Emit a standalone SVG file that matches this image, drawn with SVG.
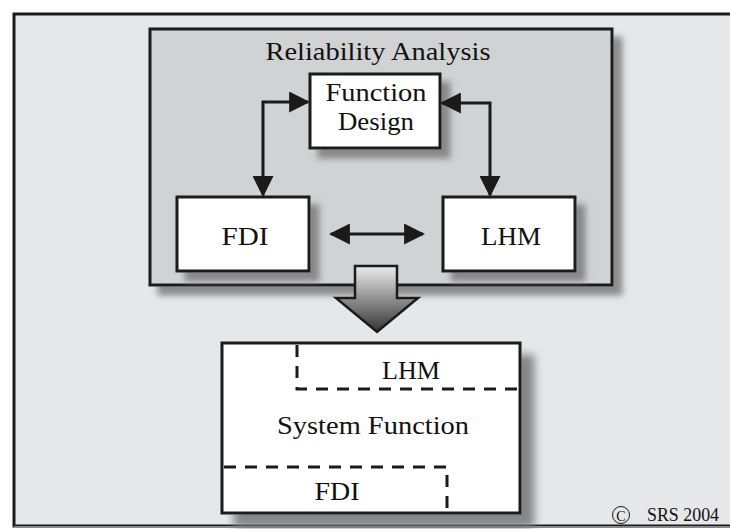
<svg xmlns="http://www.w3.org/2000/svg" width="730" height="529" viewBox="0 0 730 529">
  <style>
    .box { fill: #ffffff; stroke: #1a1a1a; stroke-width: 3; }
    .ln { fill: none; stroke: #1a1a1a; stroke-width: 3; }
    .dash { fill: none; stroke: #1a1a1a; stroke-width: 3; stroke-dasharray: 12 9; }
  </style>
  <defs>
    <filter id="sh" x="-10%" y="-10%" width="130%" height="140%">
      <feDropShadow dx="9" dy="9" stdDeviation="3" flood-color="#7a7b7d" flood-opacity="0.85"/>
    </filter>
    <filter id="sh2" x="-10%" y="-10%" width="130%" height="140%">
      <feDropShadow dx="13" dy="13" stdDeviation="4" flood-color="#7a7b7d" flood-opacity="0.9"/>
    </filter>
    <marker id="ah" viewBox="0 0 10 10" refX="9" refY="5" markerWidth="7" markerHeight="7" orient="auto-start-reverse" markerUnits="strokeWidth">
      <path d="M0,0 L10,5 L0,10 Z" fill="#1a1a1a"/>
    </marker>
    <linearGradient id="ag" x1="0" y1="0" x2="0" y2="1">
      <stop offset="0" stop-color="#ececec"/>
      <stop offset="1" stop-color="#333333"/>
    </linearGradient>
  </defs>

  <!-- outer frame -->
  <rect x="14" y="14" width="730" height="512" fill="#e6e7e8" stroke="#1a1a1a" stroke-width="3"/>
  <line x1="14" y1="527" x2="730" y2="527" stroke="#8a8a8a" stroke-width="2"/>

  <g id="reliability-analysis">
    <rect x="150" y="29" width="462" height="256" fill="#d1d2d4" stroke="#1a1a1a" stroke-width="3" filter="url(#sh)"/>
    <text x="378" y="60" font-family="Liberation Serif, serif" fill="#111" font-size="26" text-anchor="middle" textLength="225" lengthAdjust="spacingAndGlyphs">Reliability Analysis</text>
  </g>

  <g id="function-design">
    <rect class="box" x="310" y="74" width="130" height="74" filter="url(#sh)"/>
    <text x="376" y="101" font-family="Liberation Serif, serif" fill="#111" font-size="26" text-anchor="middle" textLength="101" lengthAdjust="spacingAndGlyphs">Function</text>
    <text x="376" y="130" font-family="Liberation Serif, serif" fill="#111" font-size="26" text-anchor="middle" textLength="76" lengthAdjust="spacingAndGlyphs">Design</text>
  </g>

  <g id="fdi">
    <rect class="box" x="177" y="197" width="132" height="74" filter="url(#sh)"/>
    <text x="245" y="245" font-family="Liberation Serif, serif" fill="#111" font-size="26" text-anchor="middle" textLength="47" lengthAdjust="spacingAndGlyphs">FDI</text>
  </g>

  <g id="lhm">
    <rect class="box" x="443" y="197" width="132" height="74" filter="url(#sh)"/>
    <text x="511" y="245" font-family="Liberation Serif, serif" fill="#111" font-size="26" text-anchor="middle" textLength="60" lengthAdjust="spacingAndGlyphs">LHM</text>
  </g>

  <g id="connectors">
    <path class="ln" d="M308,102 L263,102 L263,195" marker-start="url(#ah)" marker-end="url(#ah)"/>
    <path class="ln" d="M442,103 L490,103 L490,195" marker-start="url(#ah)" marker-end="url(#ah)"/>
    <line class="ln" x1="331" y1="234" x2="423" y2="234" marker-start="url(#ah)" marker-end="url(#ah)"/>
    <path id="big-arrow" d="M355,266 L397,266 L397,298 L418,298 L377,332 L336,298 L355,298 Z" fill="url(#ag)" stroke="#1a1a1a" stroke-width="2.5" stroke-linejoin="miter"/>
  </g>

  <g id="system-function">
    <rect class="box" x="222" y="343" width="298" height="170" filter="url(#sh2)"/>
    <path class="dash" d="M297,345 L297,389 L519,389"/>
    <path class="dash" d="M224,467 L447,467 L447,511"/>
    <text x="411" y="379" font-family="Liberation Serif, serif" fill="#111" font-size="26" text-anchor="middle" textLength="58" lengthAdjust="spacingAndGlyphs">LHM</text>
    <text x="373" y="434" font-family="Liberation Serif, serif" fill="#111" font-size="26" text-anchor="middle" textLength="192" lengthAdjust="spacingAndGlyphs">System Function</text>
    <text x="337" y="500" font-family="Liberation Serif, serif" fill="#111" font-size="26" text-anchor="middle" textLength="45" lengthAdjust="spacingAndGlyphs">FDI</text>
  </g>

  <g id="copyright">
    <circle cx="621" cy="515" r="8.5" fill="none" stroke="#1a1a1a" stroke-width="1"/>
    <text x="621" y="520.5" font-family="Liberation Serif, serif" fill="#111" font-size="14" text-anchor="middle">C</text>
    <text x="647" y="521" font-family="Liberation Serif, serif" fill="#111" font-size="19" textLength="72" lengthAdjust="spacingAndGlyphs">SRS 2004</text>
  </g>
</svg>
